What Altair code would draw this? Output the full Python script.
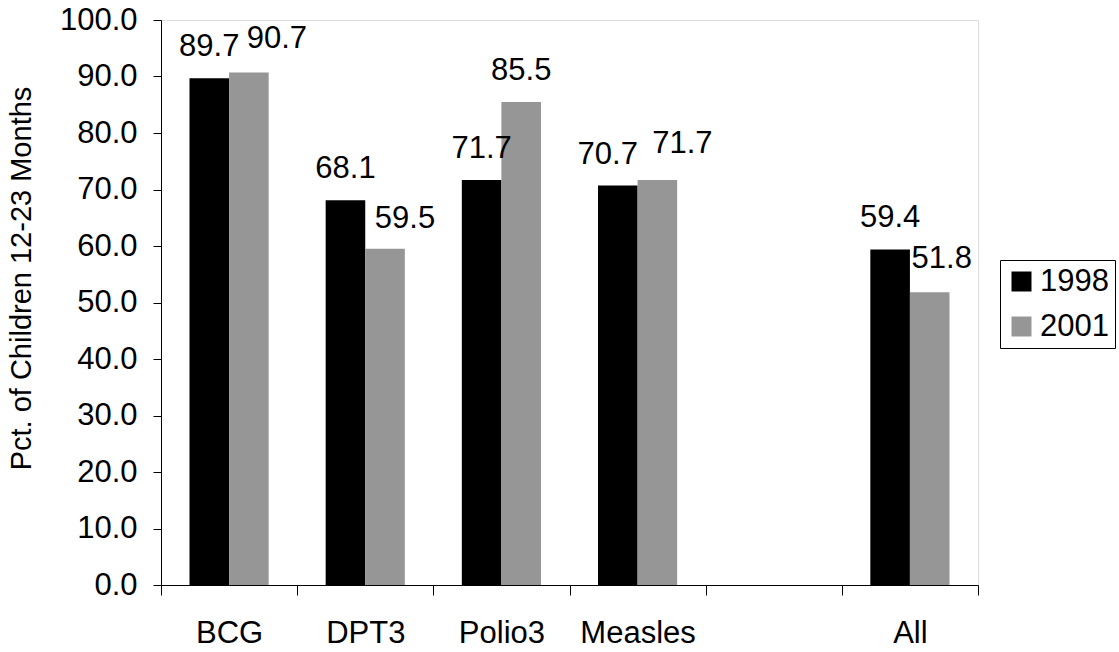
import altair as alt
import pandas as pd

# Immunization coverage by vaccine, two survey years
categories = ["BCG", "DPT3", "Polio3", "Measles", " ", "All"]
vaccines = ["BCG", "DPT3", "Polio3", "Measles", "All"]
years = ["1998", "2001"]
values_1998 = [89.7, 68.1, 71.7, 70.7, 59.4]
values_2001 = [90.7, 59.5, 85.5, 71.7, 51.8]
y_ticks = [0, 10, 20, 30, 40, 50, 60, 70, 80, 90, 100]
colors = ["#000000", "#969696"]

rows = []
for v, a, b in zip(vaccines, values_1998, values_2001):
    rows.append({"vaccine": v, "year": years[0], "pct": a})
    rows.append({"vaccine": v, "year": years[1], "pct": b})
df = pd.DataFrame(rows)

FONT = "Liberation Sans"
FS = 31

# Hand-placed value labels: pixel nudges (dx, dy) for labels moved off their bar centre
label_nudge = {
    ("BCG", "2001"): (28, -25),
    ("DPT3", "2001"): (20, -21),
    ("Measles", "1998"): (-10, -22),
    ("Measles", "2001"): (25, -27),
    ("All", "2001"): (12, -24),
}
default_nudge = (0, -22)

x_scale = alt.Scale(domain=categories, paddingInner=0, paddingOuter=0)
off_enc = alt.XOffset(
    "year:N", scale=alt.Scale(domain=years, paddingInner=0, paddingOuter=0.72)
)

x_enc = alt.X(
    "vaccine:N",
    scale=x_scale,
    axis=alt.Axis(
        title=None,
        labelAngle=0,
        tickBand="extent",
        tickSize=10,
        labelPadding=23,
        labelBaseline="top",
        labelFontSize=FS,
        labelFont=FONT,
        labelColor="black",
        domainColor="black",
        tickColor="black",
        grid=False,
    ),
)
y_enc = alt.Y(
    "pct:Q",
    scale=alt.Scale(domain=[0, 100], nice=False, zero=True),
    axis=alt.Axis(
        title="Pct. of Children 12-23 Months",
        values=y_ticks,
        format=".1f",
        tickSize=8,
        labelPadding=16,
        labelFontSize=FS,
        labelFont=FONT,
        labelColor="black",
        domainColor="black",
        tickColor="black",
        grid=False,
        titleFont=FONT,
        titleFontSize=29,
        titleFontWeight="normal",
        titleColor="black",
        titleAngle=-90,
        titleBaseline="alphabetic",
        titleX=-131,
        titleY=258,
    ),
)

bars = alt.Chart(df).mark_bar().encode(
    x=x_enc,
    xOffset=off_enc,
    y=y_enc,
    color=alt.Color(
        "year:N",
        scale=alt.Scale(domain=years, range=colors),
        legend=alt.Legend(
            title=None,
            orient="none",
            legendX=839,
            legendY=240,
            strokeColor="black",
            padding=6,
            symbolType="square",
            symbolSize=400,
            symbolStrokeWidth=0,
            symbolOpacity=1,
            labelFontSize=FS,
            labelFont=FONT,
            labelColor="black",
            labelOffset=3,
            rowPadding=13,
        ),
    ),
)

label_layers = []
for v in vaccines:
    for yr in years:
        dx, dy = label_nudge.get((v, yr), default_nudge)
        label_layers.append(
            alt.Chart(df)
            .transform_filter((alt.datum.vaccine == v) & (alt.datum.year == yr))
            .mark_text(
                font=FONT, fontSize=FS, color="black",
                baseline="alphabetic", dx=dx, dy=dy,
            )
            .encode(
                x=alt.X("vaccine:N", scale=x_scale),
                xOffset=off_enc,
                y=alt.Y("pct:Q"),
                text=alt.Text("pct:Q", format=".1f"),
            )
        )

chart = (
    alt.layer(bars, *label_layers)
    .properties(
        width=817,
        height=565,
        autosize=alt.AutoSizeParams(type="none"),
        padding={"left": 161, "top": 20, "right": 141, "bottom": 67},
    )
    .configure_view(stroke=None)
    .configure(background="white")
)

chart.save("out.html", embed_options={"renderer": "svg", "actions": False})
